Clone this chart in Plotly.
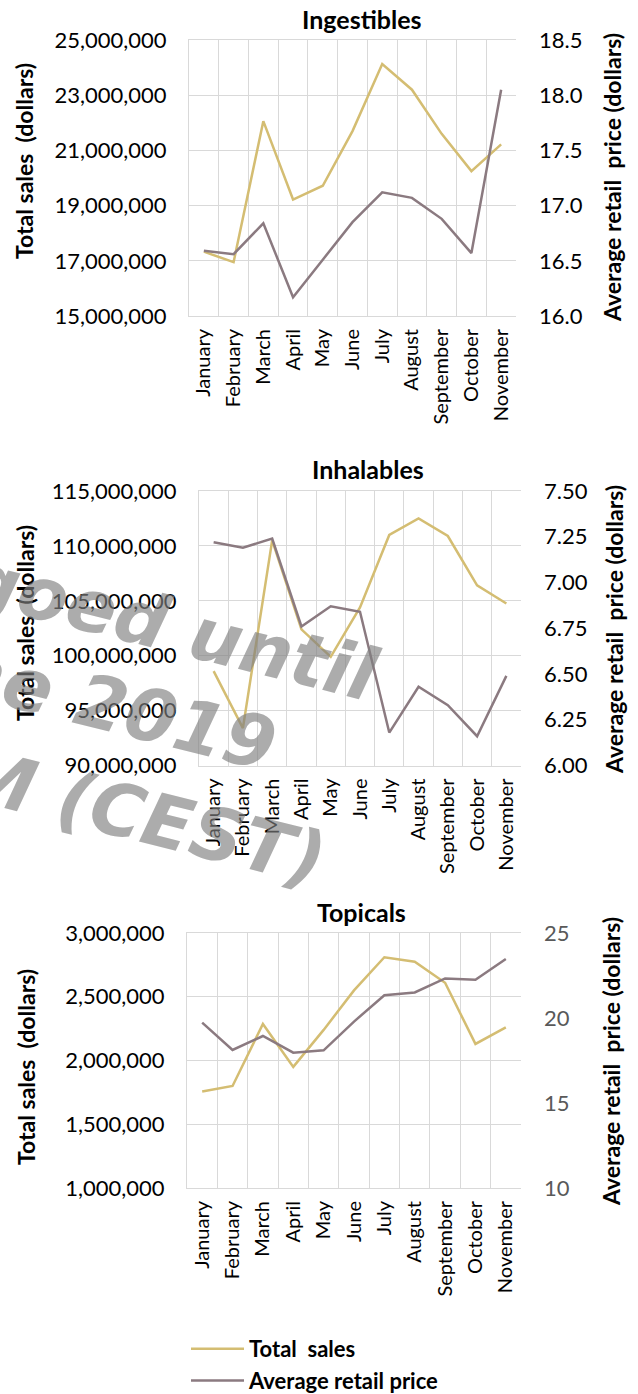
import math
import plotly.graph_objects as go

W, H = 638, 1394

months = ["January", "February", "March", "April", "May", "June",
          "July", "August", "September", "October", "November"]

# Ingestibles
ing_sales = [17.33e6, 16.95e6, 22.06e6, 19.22e6, 19.72e6, 21.7e6,
             24.13e6, 23.2e6, 21.6e6, 20.25e6, 21.22e6]
ing_price = [16.59, 16.56, 16.84, 16.17, 16.51, 16.85,
             17.12, 17.07, 16.88, 16.57, 18.05]

# Inhalables
inh_sales = [98.6e6, 93.4e6, 110.5e6, 102.4e6, 99.9e6, 104.4e6,
             111.0e6, 112.5e6, 110.9e6, 106.4e6, 104.75e6]
inh_price = [7.22, 7.19, 7.24, 6.76, 6.87, 6.84,
             6.18, 6.43, 6.33, 6.16, 6.49]

# Topicals
top_sales = [1.757e6, 1.80e6, 2.287e6, 1.95e6, 2.24e6, 2.55e6,
             2.81e6, 2.775e6, 2.61e6, 2.13e6, 2.26e6]
top_price = [19.73, 18.12, 18.94, 17.96, 18.1, 19.79,
             21.34, 21.5, 22.33, 22.25, 23.47]

SALES_COL = "#d4bd72"
PRICE_COL = "#8b7a80"
GRID = "#d9d9d9"
FONT = "Lato, Carlito, sans-serif"

fig = go.Figure()

panels = [
    # name, sales, price, left range, left dtick, right range, right dtick, right fmt, x px, y px
    ("Ingestibles", ing_sales, ing_price, [15e6, 25e6], 2e6, [16, 18.5], 0.5, ".1f",
     (189, 516), (40, 316), "black"),
    ("Inhalables", inh_sales, inh_price, [90e6, 115e6], 5e6, [6, 7.5], 0.25, ".2f",
     (199, 521), (491, 765.5), "black"),
    ("Topicals", top_sales, top_price, [1e6, 3e6], 5e5, [10, 25], 5, "d",
     (187, 521), (933, 1188), "#595959"),
]

for i, (name, sales, price, lr, ld, rr, rd, rfmt, (x0, x1), (y0, y1), rcol) in enumerate(panels):
    n = i + 1
    xa = "x" if n == 1 else f"x{n}"
    yl = f"y{2 * n - 1}" if n > 1 else "y"
    yr = f"y{2 * n}"
    fig.add_trace(go.Scatter(x=months, y=sales, mode="lines", name="Total  sales",
                             line=dict(color=SALES_COL, width=2.5),
                             xaxis=xa, yaxis=yl, showlegend=(n == 1)))
    fig.add_trace(go.Scatter(x=months, y=price, mode="lines", name="Average retail price",
                             line=dict(color=PRICE_COL, width=2.5),
                             xaxis=xa, yaxis=yr, showlegend=(n == 1)))

    xdom = [x0 / W, x1 / W]
    ydom = [1 - y1 / H, 1 - y0 / H]
    xkey = "xaxis" if n == 1 else f"xaxis{n}"
    ylkey = "yaxis" if n == 1 else f"yaxis{2 * n - 1}"
    yrkey = f"yaxis{2 * n}"
    fig.layout[xkey] = dict(domain=xdom, anchor=yl, type="category",
                            range=[-0.5, 10.5], tickson="boundaries",
                            showgrid=True, gridcolor=GRID, gridwidth=1,
                            showline=True, linecolor=GRID, mirror=True,
                            ticks="", tickangle=-90, ticklabelstandoff=4,
                            tickfont=dict(size=20, color="black", family=FONT))
    fig.layout[ylkey] = dict(domain=ydom, anchor=xa, range=lr, dtick=ld, tick0=lr[0],
                             tickformat=",d", showgrid=True, gridcolor=GRID,
                             showline=True, linecolor=GRID, zeroline=False,
                             ticks="", ticklabelstandoff=17,
                             tickfont=dict(size=22, color="black", family=FONT))
    fig.layout[yrkey] = dict(domain=ydom, anchor=xa, overlaying=yl, side="right",
                             range=rr, dtick=rd, tick0=rr[0], tickformat=rfmt,
                             showgrid=False, zeroline=False, showline=False, ticks="",
                             ticklabelstandoff=22,
                             tickfont=dict(size=22, color=rcol, family=FONT))

annotations = []
titles = [("Ingestibles", 361, 19), ("Inhalables", 368, 469), ("Topicals", 361, 912)]
for t, x, y in titles:
    annotations.append(dict(text=f"<b>{t}</b>", x=x / W, y=1 - y / H, xref="paper", yref="paper",
                            showarrow=False, xanchor="center", yanchor="middle",
                            font=dict(size=25, color="black", family=FONT)))

left_titles = [(24, 161), (25, 623), (26, 1067)]
right_titles = [(612, 178), (614, 630), (611, 1062)]
for x, y in left_titles:
    annotations.append(dict(text="<b>Total sales  (dollars)</b>", x=x / W, y=1 - y / H,
                            xref="paper", yref="paper", showarrow=False, textangle=-90,
                            xanchor="center", yanchor="middle",
                            font=dict(size=23, color="black", family=FONT)))
for x, y in right_titles:
    annotations.append(dict(text="<b>Average retail  price (dollars)</b>", x=x / W, y=1 - y / H,
                            xref="paper", yref="paper", showarrow=False, textangle=-90,
                            xanchor="center", yanchor="middle",
                            font=dict(size=23, color="black", family=FONT)))

# watermark lines (DejaVu Sans Bold widths in em), placed from the right end of each baseline
ANG = 14
WM_SIZE = 73
wm_lines = [("Embargoed until", 9.342, 370, 700),
            ("26 June 2019", 7.346, 268, 770),
            ("11:00 AM (CEST)", 9.382, 318, 885)]
c, s = math.cos(math.radians(ANG)), math.sin(math.radians(ANG))
for text, em, ex, ey in wm_lines:
    w = em * WM_SIZE
    cx = ex - w / 2 * c + 0.33 * WM_SIZE * s
    cy = ey - w / 2 * s - 0.33 * WM_SIZE * c
    annotations.append(dict(text=f"<b><i>{text}</i></b>", x=cx / W, y=1 - cy / H,
                            xref="paper", yref="paper", showarrow=False, textangle=ANG,
                            xanchor="center", yanchor="middle",
                            font=dict(size=WM_SIZE, color="rgba(128,128,128,0.65)",
                                      family="DejaVu Sans, sans-serif")))

fig.update_layout(
    width=W, height=H,
    margin=dict(l=0, r=0, t=0, b=0, autoexpand=False),
    paper_bgcolor="white", plot_bgcolor="white",
    annotations=annotations,
    legend=dict(x=186 / W, y=1 - 1328 / H, xanchor="left", yanchor="top",
                orientation="v", itemwidth=53, bgcolor="rgba(0,0,0,0)",
                font=dict(size=22, color="black", family=FONT, weight="bold")),
)

fig.write_html("out.html", config={"displayModeBar": False},
               post_script="document.body.style.margin = '0';")
